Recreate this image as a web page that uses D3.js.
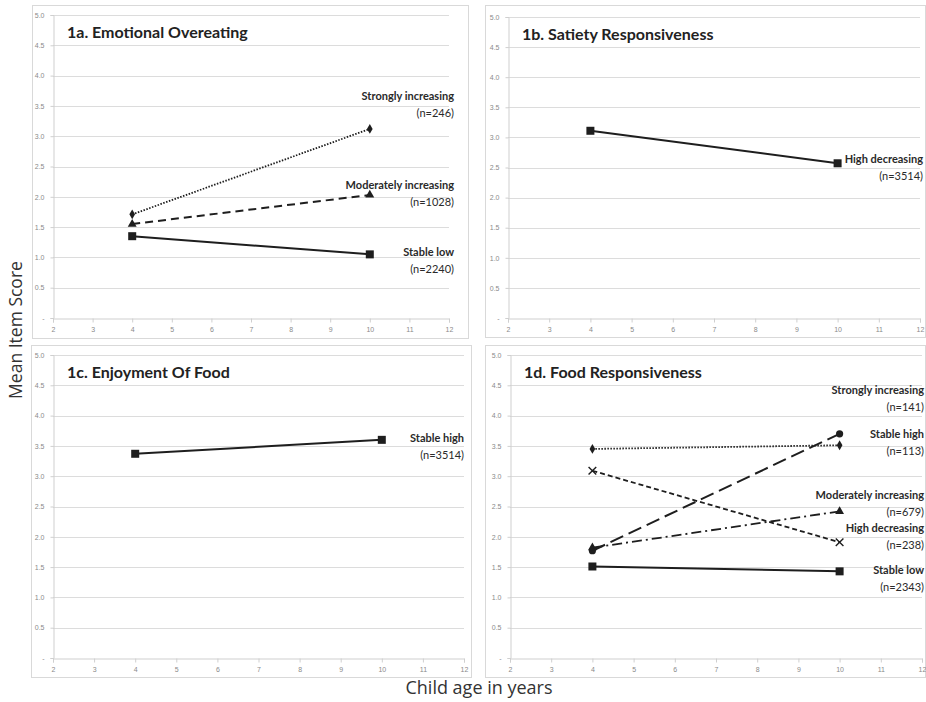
<!DOCTYPE html>
<html>
<head>
<meta charset="utf-8">
<script src="https://cdn.jsdelivr.net/npm/d3@7"></script>
<style>
  body { margin: 0; background: #fff; }
  svg { font-family: Lato, "Open Sans", sans-serif; }
</style>
</head>
<body>
<div id="chart"></div>
<script>
// values (ages 4 and 10)
const ages = [4, 10]
const xTicks = [2, 3, 4, 5, 6, 7, 8, 9, 10, 11, 12]
const yTicks = [0, 0.5, 1, 1.5, 2, 2.5, 3, 3.5, 4, 4.5, 5]
const yTickLabels = ['-', '0.5', '1.0', '1.5', '2.0', '2.5', '3.0', '3.5', '4.0', '4.5', '5.0']

const titles = ['1a. Emotional Overeating', '1b. Satiety Responsiveness', '1c. Enjoyment Of Food', '1d. Food Responsiveness']

const eoNames = ['Strongly increasing', 'Moderately increasing', 'Stable low']
const eoCounts = ['(n=246)', '(n=1028)', '(n=2240)']
const eoValues = [[1.71, 3.12], [1.55, 2.03], [1.35, 1.05]]

const srNames = ['High decreasing']
const srCounts = ['(n=3514)']
const srValues = [[3.11, 2.57]]

const efNames = ['Stable high']
const efCounts = ['(n=3514)']
const efValues = [[3.37, 3.60]]

const frNames = ['Strongly increasing', 'Stable high', 'Moderately increasing', 'High decreasing', 'Stable low']
const frCounts = ['(n=141)', '(n=113)', '(n=679)', '(n=238)', '(n=2343)']
const frValues = [[1.77, 3.70], [3.45, 3.51], [1.82, 2.42], [3.09, 1.91], [1.51, 1.43]]

// line / marker style per trajectory shape
const styles = {
  'Strongly increasing': { dash: '1.5,1.5', marker: 'diamond', w: 1.8 },
  'Moderately increasing': { dash: '8,5', marker: 'triangle', w: 2 },
  'Stable low': { dash: null, marker: 'square', w: 2 },
  'High decreasing': { dash: null, marker: 'square', w: 2 },
  'Stable high': { dash: null, marker: 'square', w: 2 }
}
const frStyles = [
  { dash: '14,6', marker: 'circle', w: 2 },
  { dash: '1.5,1.5', marker: 'diamond', w: 1.8 },
  { dash: '10,4,2,4', marker: 'triangle', w: 1.8 },
  { dash: '5,3', marker: 'cross', w: 1.8 },
  { dash: null, marker: 'square', w: 2 }
]

const width = 926, height = 702

const panels = [
  { names: eoNames, counts: eoCounts, values: eoValues, styles: eoNames.map(n => styles[n]),
    box: [32, 5, 436, 333], plot: [53, 449, 15, 318], labelRight: 454, labelDy: [-33, -10, -2] },
  { names: srNames, counts: srCounts, values: srValues, styles: srNames.map(n => styles[n]),
    box: [485, 5, 440, 332], plot: [508, 920, 17, 318], labelRight: 923, labelDy: [-4] },
  { names: efNames, counts: efCounts, values: efValues, styles: efNames.map(n => styles[n]),
    box: [31, 345, 440, 332], plot: [53, 464, 355, 658], labelRight: 464, labelDy: [-2] },
  { names: frNames, counts: frCounts, values: frValues, styles: frStyles,
    box: [485, 345, 440, 332], plot: [510, 922, 355, 658], labelRight: 924, labelDy: [-44, -11, -16, -14, -1] }
]

const svg = d3.select('#chart').append('svg')
  .attr('width', width)
  .attr('height', height)

const ink = '#1e1e1e'

function drawMarker(g, type, x, y) {
  if (type === 'square') {
    g.append('rect').attr('x', x - 4).attr('y', y - 4).attr('width', 8).attr('height', 8).attr('fill', ink)
  } else if (type === 'diamond') {
    g.append('path').attr('d', d3.symbol(d3.symbolDiamond, 28)()).attr('transform', `translate(${x},${y})`).attr('fill', ink)
  } else if (type === 'triangle') {
    g.append('path').attr('d', d3.symbol(d3.symbolTriangle, 34)()).attr('transform', `translate(${x},${y})`).attr('fill', ink)
  } else if (type === 'circle') {
    g.append('circle').attr('cx', x).attr('cy', y).attr('r', 3.6).attr('fill', ink)
  } else if (type === 'cross') {
    g.append('path').attr('d', d3.symbol(d3.symbolX, 40)()).attr('transform', `translate(${x},${y})`)
      .attr('stroke', ink).attr('stroke-width', 1.4).attr('fill', 'none')
  }
}

panels.forEach(function(p, pi) {
  const g = svg.append('g')

  // panel frame
  g.append('rect')
    .attr('x', p.box[0] + 0.5).attr('y', p.box[1] + 0.5)
    .attr('width', p.box[2]).attr('height', p.box[3])
    .attr('fill', 'none').attr('stroke', '#d9d9d9')

  const x = d3.scaleLinear().domain([2, 12]).range([p.plot[0], p.plot[1]])
  const y = d3.scaleLinear().domain([0, 5]).range([p.plot[3], p.plot[2]])

  // gridlines
  g.append('g').selectAll('line')
    .data(yTicks.slice(1))
    .enter().append('line')
      .attr('x1', x(2)).attr('x2', x(12))
      .attr('y1', d => Math.round(y(d)) + 0.5).attr('y2', d => Math.round(y(d)) + 0.5)
      .attr('stroke', '#dcdcdc').attr('stroke-width', 1.2)

  // y axis
  const yAxis = g.append('g')
    .attr('transform', `translate(${Math.round(x(2)) + 0.5},0)`)
    .call(d3.axisLeft(y).tickValues(yTicks).tickFormat((d, i) => yTickLabels[i]).tickSize(3).tickPadding(6))
  yAxis.select('.domain').attr('stroke', '#cfcfcf')
  yAxis.selectAll('.tick line').attr('stroke', '#cfcfcf')
  yAxis.selectAll('.tick text').attr('fill', '#8a8a8a').attr('font-size', 7)

  // x axis
  const xAxis = g.append('g')
    .attr('transform', `translate(0,${Math.round(y(0)) + 0.5})`)
    .call(d3.axisBottom(x).tickValues(xTicks).tickFormat(d3.format('d')).tickSize(4).tickPadding(5))
  xAxis.select('.domain').attr('stroke', '#cfcfcf')
  xAxis.selectAll('.tick line').attr('stroke', '#cfcfcf')
  xAxis.selectAll('.tick text').attr('fill', '#8a8a8a').attr('font-size', 7)

  // panel title
  g.append('text')
    .attr('x', x(2) + 14).attr('y', p.plot[2] + 23)
    .attr('font-size', 16).attr('font-weight', 'bold').attr('fill', '#222')
    .text(titles[pi])

  const line = d3.line()
    .x((d, i) => x(ages[i]))
    .y(d => y(d))

  p.values.forEach(function(vals, si) {
    const st = p.styles[si]
    g.append('path')
      .datum(vals)
      .attr('d', line)
      .attr('fill', 'none')
      .attr('stroke', ink)
      .attr('stroke-width', st.w)
      .attr('stroke-dasharray', st.dash)
    vals.forEach((v, i) => drawMarker(g, st.marker, x(ages[i]), y(v)))

    // end label
    const lx = p.labelRight
    const ly = y(vals[1]) + p.labelDy[si]
    g.append('text')
      .attr('x', lx).attr('y', ly).attr('dy', '0.35em')
      .attr('text-anchor', 'end').attr('font-size', 11).attr('font-weight', 'bold').attr('fill', '#2a2a2a')
      .text(p.names[si])
    g.append('text')
      .attr('x', lx).attr('y', ly + 17).attr('dy', '0.35em')
      .attr('text-anchor', 'end').attr('font-size', 11).attr('fill', '#2a2a2a')
      .text(p.counts[si])
  })
})

// shared axis titles
svg.append('text')
  .attr('transform', 'translate(22,330) rotate(-90)')
  .attr('text-anchor', 'middle')
  .attr('font-family', '"Open Sans", sans-serif')
  .attr('font-size', 17.5).attr('fill', '#333')
  .text('Mean Item Score')

svg.append('text')
  .attr('x', 479).attr('y', 694)
  .attr('text-anchor', 'middle')
  .attr('font-family', '"Open Sans", sans-serif')
  .attr('font-size', 18).attr('fill', '#333')
  .text('Child age in years')
</script>
</body>
</html>
